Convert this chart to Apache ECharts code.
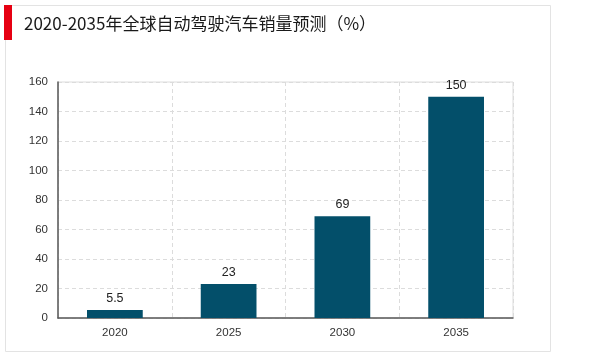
<!DOCTYPE html>
<html>
<head>
<meta charset="utf-8">
<script src="https://cdn.jsdelivr.net/npm/echarts@6/dist/echarts.min.js"></script>
<style>html,body{margin:0;padding:0;background:#fff}#c{width:600px;height:355px}</style>
</head>
<body>
<div id="c"></div>
<script>
const titleText = '2020-2035年全球自动驾驶汽车销量预测（%）';
const categories = ['2020', '2025', '2030', '2035'];
const values = [5.5, 23, 69, 150];
const yMin = 0, yMax = 160, yInterval = 20;

const chart = echarts.init(document.getElementById('c'), null, {renderer: 'canvas'});
chart.setOption({
  animation: false,
  backgroundColor: '#fff',
  graphic: [
    {type: 'rect', shape: {x: 5.5, y: 5.5, width: 545, height: 346}, style: {fill: 'none', stroke: '#e3e3e3', lineWidth: 1}, z: 0},
    {type: 'rect', shape: {x: 4, y: 5, width: 8, height: 35}, style: {fill: '#e60012'}, z: 1},
    {type: 'text', left: 24, top: 15, style: {text: titleText, font: '17px "Noto Sans CJK SC", sans-serif', fill: '#1a1a1a'}, z: 1}
  ],
  grid: {left: 58, right: 87, top: 82, bottom: 37, show: true, borderColor: '#dcdcdc', borderWidth: 1},
  xAxis: {
    type: 'category', data: categories,
    axisLine: {lineStyle: {color: '#595959', width: 1.5}},
    axisTick: {show: false},
    axisLabel: {color: '#333', fontSize: 11.5, margin: 9, fontFamily: 'Liberation Sans, Arial'},
    splitLine: {show: true, lineStyle: {color: '#dcdcdc', type: [4, 3]}}
  },
  yAxis: {
    type: 'value', min: yMin, max: yMax, interval: yInterval,
    axisLine: {show: true, lineStyle: {color: '#595959', width: 1.5}},
    axisTick: {show: false},
    axisLabel: {color: '#333', fontSize: 11.5, margin: 10, fontFamily: 'Liberation Sans, Arial'},
    splitLine: {show: true, lineStyle: {color: '#dcdcdc', type: [4, 3]}}
  },
  series: [{
    type: 'bar', data: values, barWidth: '49%',
    itemStyle: {color: '#034f6a'},
    label: {show: true, position: 'top', distance: 5, color: '#222', fontSize: 12.5, fontFamily: 'Liberation Sans, Arial'}
  }]
});
</script>
</body>
</html>
